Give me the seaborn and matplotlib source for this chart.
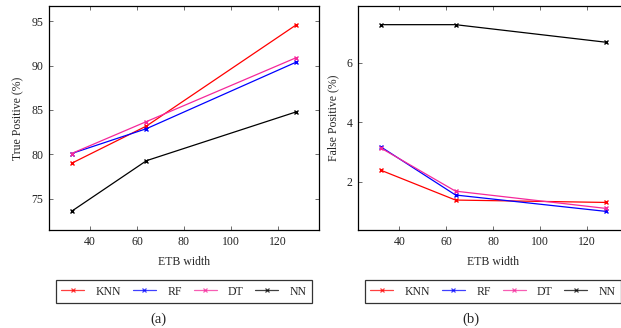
import matplotlib
matplotlib.use("Agg")
import matplotlib.pyplot as plt
import pandas as pd
import seaborn as sns

# data
etb_width = [32, 64, 128]
models = ['KNN', 'RF', 'DT', 'NN']
colors = ['#ff0000', '#0000ff', '#f5289b', '#000000']

tp_knn = [79.0, 83.2, 94.6]
tp_rf = [80.1, 82.9, 90.4]
tp_dt = [80.1, 83.7, 90.9]
tp_nn = [73.6, 79.3, 84.8]

fp_knn = [2.39, 1.38, 1.30]
fp_rf = [3.18, 1.55, 1.00]
fp_dt = [3.14, 1.68, 1.10]
fp_nn = [7.29, 7.29, 6.70]


def long_df(series):
    rows = []
    for name, vals in zip(models, series):
        for w, v in zip(etb_width, vals):
            rows.append({'width': w, 'value': v, 'model': name})
    return pd.DataFrame(rows)


df_tp = long_df([tp_knn, tp_rf, tp_dt, tp_nn])
df_fp = long_df([fp_knn, fp_rf, fp_dt, fp_nn])

sns.set_style("ticks")
plt.rcParams['font.family'] = ['Liberation Serif', 'DejaVu Serif']

fig = plt.figure(figsize=(6.21, 3.28), dpi=100)
ax1 = fig.add_axes([49 / 621, 1 - 230 / 328, 270 / 621, 224 / 328])
ax2 = fig.add_axes([358 / 621, 1 - 230 / 328, 270 / 621, 224 / 328])

palette = dict(zip(models, colors))


def enlarge(lo, hi, f=0.1):
    d = (hi - lo) * f
    return lo - d, hi + d


for ax, df, ylab, yticks in [(ax1, df_tp, 'True Positive (%)', [75, 80, 85, 90, 95]),
                             (ax2, df_fp, 'False Positive (%)', [2, 4, 6])]:
    sns.lineplot(data=df, x='width', y='value', hue='model', hue_order=models,
                 palette=palette, marker='x', markersize=3.5,
                 linewidth=0.9, ax=ax, legend=False)
    # seaborn gives markers a white edge; 'x' needs the line colour
    for ln in ax.lines:
        ln.set_markeredgecolor(ln.get_color())
        ln.set_markeredgewidth(1.0)
    ax.set_xlim(*enlarge(min(etb_width), max(etb_width)))
    ax.set_ylim(*enlarge(df['value'].min(), df['value'].max()))
    ax.set_xticks([40, 60, 80, 100, 120])
    ax.set_yticks(yticks)
    ax.tick_params(direction='in', top=True, right=True, length=3, width=0.5,
                   labelsize=8.5, colors='#333333', labelcolor='#222222', pad=4)
    for s in ax.spines.values():
        s.set_color('black')
        s.set_linewidth(0.9)
    ax.set_xlabel('ETB width', fontsize=8.5, labelpad=6)
    ax.set_ylabel(ylab, fontsize=8.5, labelpad=5)

    handles = [plt.Line2D([], [], color=c, marker='x', markersize=3, markeredgewidth=0.9,
                          linewidth=0.9, alpha=0.75) for c in colors]
    leg = ax.legend(handles, models, ncol=4, loc='upper center',
                    bbox_to_anchor=(0.5, -0.198), frameon=True, fancybox=False,
                    edgecolor='black', fontsize=8.5, handlelength=1.95,
                    columnspacing=1.0, handletextpad=0.95, borderpad=0.45)
    leg.get_frame().set_linewidth(0.9)

fig.text(158 / 621, 1 - 319 / 328, '(a)', ha='center', va='center', fontsize=10.5)
fig.text(471 / 621, 1 - 319 / 328, '(b)', ha='center', va='center', fontsize=10.5)

fig.savefig('out.png', dpi=100)
